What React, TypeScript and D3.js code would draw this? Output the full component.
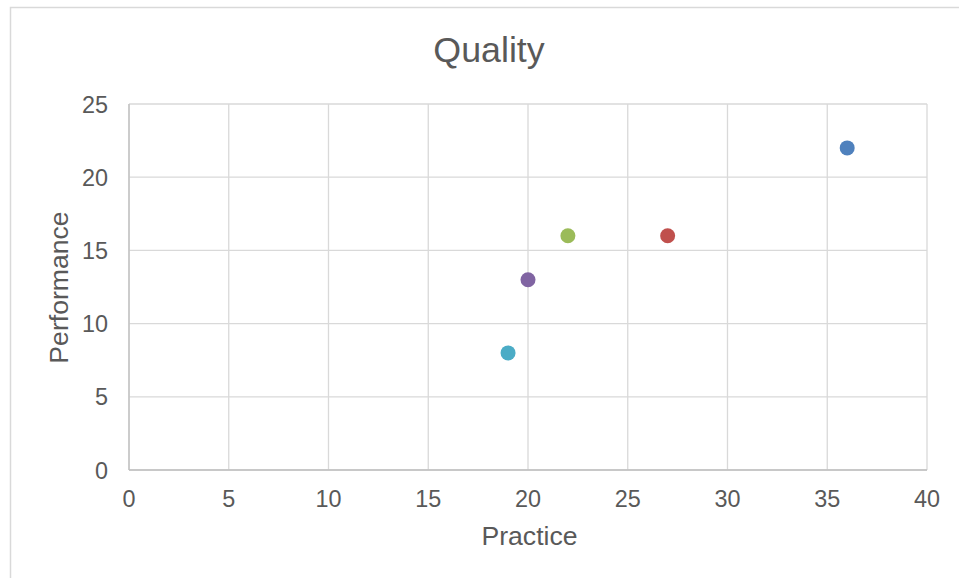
import React from "react";
import * as d3 from "d3";

const practice = [36, 27, 22, 20, 19];
const performance = [22, 16, 16, 13, 8];
const pointColors = ["#4F81BD", "#C0504D", "#9BBB59", "#8064A2", "#4BACC6"];
const xTicks = [0, 5, 10, 15, 20, 25, 30, 35, 40];
const yTicks = [0, 5, 10, 15, 20, 25];

const W = 959;
const H = 578;
const plot = { left: 129, right: 927, top: 104, bottom: 470 };
const font = "'Liberation Sans', Arial, sans-serif";
const textColor = "#595959";

export default function App() {
  const x = d3.scaleLinear().domain([0, 40]).range([plot.left, plot.right]);
  const y = d3.scaleLinear().domain([0, 25]).range([plot.bottom, plot.top]);

  return (
    <svg
      width={W}
      height={H}
      style={{ position: "absolute", left: 0, top: 0, display: "block" }}
      fontFamily={font}
    >
      <rect x={0} y={0} width={W} height={H} fill="#fff" />
      <rect x={10.5} y={7.5} width={W + 10} height={H + 10} fill="#fff" stroke="#D9D9D9" strokeWidth={1.5} />

      {/* gridlines */}
      {xTicks.map((t) => (
        <line key={`gx${t}`} x1={x(t)} x2={x(t)} y1={plot.top} y2={plot.bottom} stroke="#D9D9D9" strokeWidth={1.3} />
      ))}
      {yTicks.map((t) => (
        <line key={`gy${t}`} x1={plot.left} x2={plot.right} y1={y(t)} y2={y(t)} stroke="#D9D9D9" strokeWidth={1.3} />
      ))}

      {/* axis lines */}
      <line x1={plot.left} x2={plot.right} y1={plot.bottom} y2={plot.bottom} stroke="#BFBFBF" strokeWidth={1.3} />
      <line x1={plot.left} x2={plot.left} y1={plot.top} y2={plot.bottom} stroke="#BFBFBF" strokeWidth={1.3} />

      {/* tick labels */}
      {xTicks.map((t) => (
        <text key={`tx${t}`} x={x(t)} y={plot.bottom + 36.5} textAnchor="middle" fontSize={23.4} fill={textColor}>
          {t}
        </text>
      ))}
      {yTicks.map((t) => (
        <text key={`ty${t}`} x={plot.left - 21} y={y(t) + 8.5} textAnchor="end" fontSize={23.4} fill={textColor}>
          {t}
        </text>
      ))}

      {/* points */}
      {practice.map((px, i) => (
        <circle key={`p${i}`} cx={x(px)} cy={y(performance[i])} r={7.5} fill={pointColors[i]} />
      ))}

      {/* titles */}
      <text x={489} y={62} textAnchor="middle" fontSize={35.8} fill={textColor}>
        Quality
      </text>
      <text x={529.5} y={545} textAnchor="middle" fontSize={26.6} fill={textColor}>
        Practice
      </text>
      <text
        transform={`translate(68, 287.5) rotate(-90)`}
        textAnchor="middle"
        fontSize={26.6}
        fill={textColor}
      >
        Performance
      </text>
    </svg>
  );
}
